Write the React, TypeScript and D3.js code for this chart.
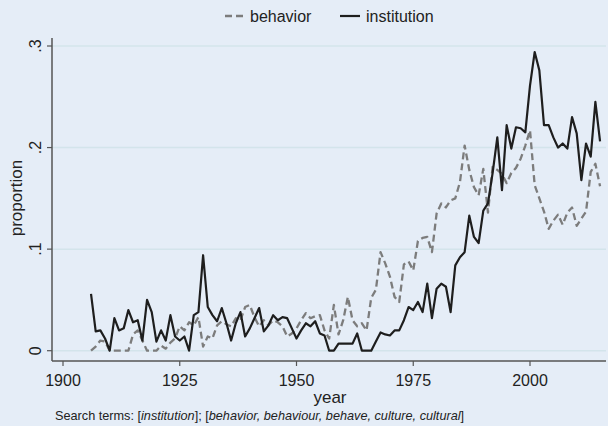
import React from "react";
import * as d3 from "d3";

const firstYear = 1906;

const institution = [
  0.056, 0.019, 0.02, 0.012, 0.0, 0.032, 0.02, 0.022, 0.04, 0.028,
  0.03, 0.01, 0.05, 0.038, 0.009, 0.02, 0.01, 0.035, 0.014, 0.01,
  0.014, 0.0, 0.035, 0.038, 0.094, 0.043, 0.035, 0.029, 0.042, 0.027,
  0.01, 0.027, 0.038, 0.014, 0.022, 0.032, 0.042, 0.019, 0.025, 0.035,
  0.03, 0.033, 0.032, 0.022, 0.012, 0.02, 0.027, 0.024, 0.029, 0.017,
  0.015, 0.0, 0.0, 0.007, 0.007, 0.007, 0.007, 0.017, 0.0, 0.0,
  0.0, 0.009, 0.018, 0.016, 0.015, 0.02, 0.02, 0.03, 0.043, 0.04,
  0.048, 0.038, 0.066, 0.032, 0.061, 0.066, 0.063, 0.038, 0.084, 0.092,
  0.097, 0.133, 0.112, 0.106, 0.138, 0.145, 0.175, 0.21, 0.158, 0.222,
  0.199, 0.22, 0.219, 0.215, 0.261, 0.294, 0.276, 0.222, 0.222, 0.21,
  0.2, 0.204, 0.199, 0.23, 0.214, 0.168, 0.204, 0.191, 0.245, 0.206,
];

const behavior = [
  0.0, 0.004, 0.01, 0.009, 0.0, 0.0, 0.0, 0.0, 0.0, 0.016,
  0.02, 0.01, 0.0, 0.0, 0.0, 0.005, 0.002, 0.008, 0.012, 0.024,
  0.02, 0.028, 0.025, 0.033, 0.004, 0.014, 0.012, 0.025, 0.029, 0.026,
  0.024, 0.032, 0.03, 0.043, 0.045, 0.033, 0.024, 0.03, 0.025, 0.03,
  0.028, 0.024, 0.014, 0.017, 0.022, 0.03, 0.037, 0.032, 0.034, 0.035,
  0.02, 0.012, 0.045, 0.016, 0.03, 0.053, 0.03, 0.024, 0.027, 0.02,
  0.052, 0.06, 0.097, 0.086, 0.073, 0.053, 0.048, 0.085, 0.088, 0.079,
  0.108, 0.111, 0.112, 0.097, 0.135, 0.145, 0.141, 0.148, 0.15, 0.166,
  0.202, 0.178, 0.161, 0.153, 0.179, 0.136, 0.181, 0.178, 0.174, 0.165,
  0.175, 0.18, 0.189, 0.202, 0.217, 0.163, 0.15, 0.137, 0.12, 0.128,
  0.134, 0.124, 0.136, 0.141, 0.123, 0.13, 0.137, 0.176, 0.184, 0.162,
];

const xTicks = [1900, 1925, 1950, 1975, 2000];
const yTicks = [0, 0.1, 0.2, 0.3];
const yTickLabels = ["0", ".1", ".2", ".3"];
const seriesNames = ["behavior", "institution"];

const W = 608;
const H = 426;
const FONT = "'Liberation Sans', Arial, Helvetica, sans-serif";
const BG = "#e5edf7";
const GRID = "#d3e4eb";

export default function App() {
  const x = d3.scaleLinear().domain([1900, 2000]).range([63, 530]);
  const y = d3.scaleLinear().domain([0, 0.3]).range([350.7, 46]);
  const plotLeft = 52;
  const plotRight = 606;
  const plotBottom = 361;
  const plotTop = 38;

  const line = d3
    .line<number>()
    .x((_, i) => x(firstYear + i))
    .y((d) => y(d));

  return (
    <div style={{ position: "fixed", left: 0, top: 0 }}>
      <svg width={W} height={H} style={{ display: "block" }}>
        <rect x={0} y={0} width={W} height={H} fill={BG} />
        {yTicks.map((t) => (
          <line
            key={"g" + t}
            x1={plotLeft}
            x2={plotRight}
            y1={y(t)}
            y2={y(t)}
            stroke={GRID}
            strokeWidth={1.5}
          />
        ))}
        <path
          d={line(behavior) || ""}
          fill="none"
          stroke="#7c7c7c"
          strokeWidth={2.3}
          strokeDasharray="7,4"
          strokeLinejoin="round"
        />
        <path
          d={line(institution) || ""}
          fill="none"
          stroke="#1e1e1e"
          strokeWidth={2.2}
          strokeLinejoin="round"
        />
        <line x1={plotLeft} x2={plotLeft} y1={plotTop} y2={plotBottom} stroke="#555" strokeWidth={1.5} />
        <line x1={plotLeft} x2={plotRight} y1={plotBottom} y2={plotBottom} stroke="#555" strokeWidth={1.5} />
        {yTicks.map((t, i) => (
          <g key={"y" + t}>
            <line x1={plotLeft - 5} x2={plotLeft} y1={y(t)} y2={y(t)} stroke="#555" strokeWidth={1.2} />
            <text
              transform={`translate(${41},${y(t)}) rotate(-90)`}
              textAnchor="middle"
              fontFamily={FONT}
              fontSize={16}
              fill="#222"
            >
              {yTickLabels[i]}
            </text>
          </g>
        ))}
        {xTicks.map((t) => (
          <g key={"x" + t}>
            <line x1={x(t)} x2={x(t)} y1={plotBottom} y2={plotBottom + 5} stroke="#555" strokeWidth={1.2} />
            <text x={x(t)} y={386} textAnchor="middle" fontFamily={FONT} fontSize={16} fill="#222">
              {t}
            </text>
          </g>
        ))}
        <text x={330} y={403} textAnchor="middle" fontFamily={FONT} fontSize={17} fill="#222">
          year
        </text>
        <text
          transform={`translate(${22},${198}) rotate(-90)`}
          textAnchor="middle"
          fontFamily={FONT}
          fontSize={17}
          fill="#222"
        >
          proportion
        </text>
        <line x1={225} x2={245} y1={16} y2={16} stroke="#7c7c7c" strokeWidth={2.3} strokeDasharray="7,4" />
        <text x={250} y={22} fontFamily={FONT} fontSize={16} fill="#222">
          {seriesNames[0]}
        </text>
        <line x1={340} x2={360} y1={16} y2={16} stroke="#1e1e1e" strokeWidth={2.2} />
        <text x={366} y={22} fontFamily={FONT} fontSize={16} fill="#222">
          {seriesNames[1]}
        </text>
        <text x={55} y={420} fontFamily={FONT} fontSize={12.7} fill="#222">
          <tspan>Search terms: [</tspan>
          <tspan fontStyle="italic">institution</tspan>
          <tspan>]; [</tspan>
          <tspan fontStyle="italic">behavior, behaviour, behave, culture, cultural</tspan>
          <tspan>]</tspan>
        </text>
      </svg>
    </div>
  );
}
